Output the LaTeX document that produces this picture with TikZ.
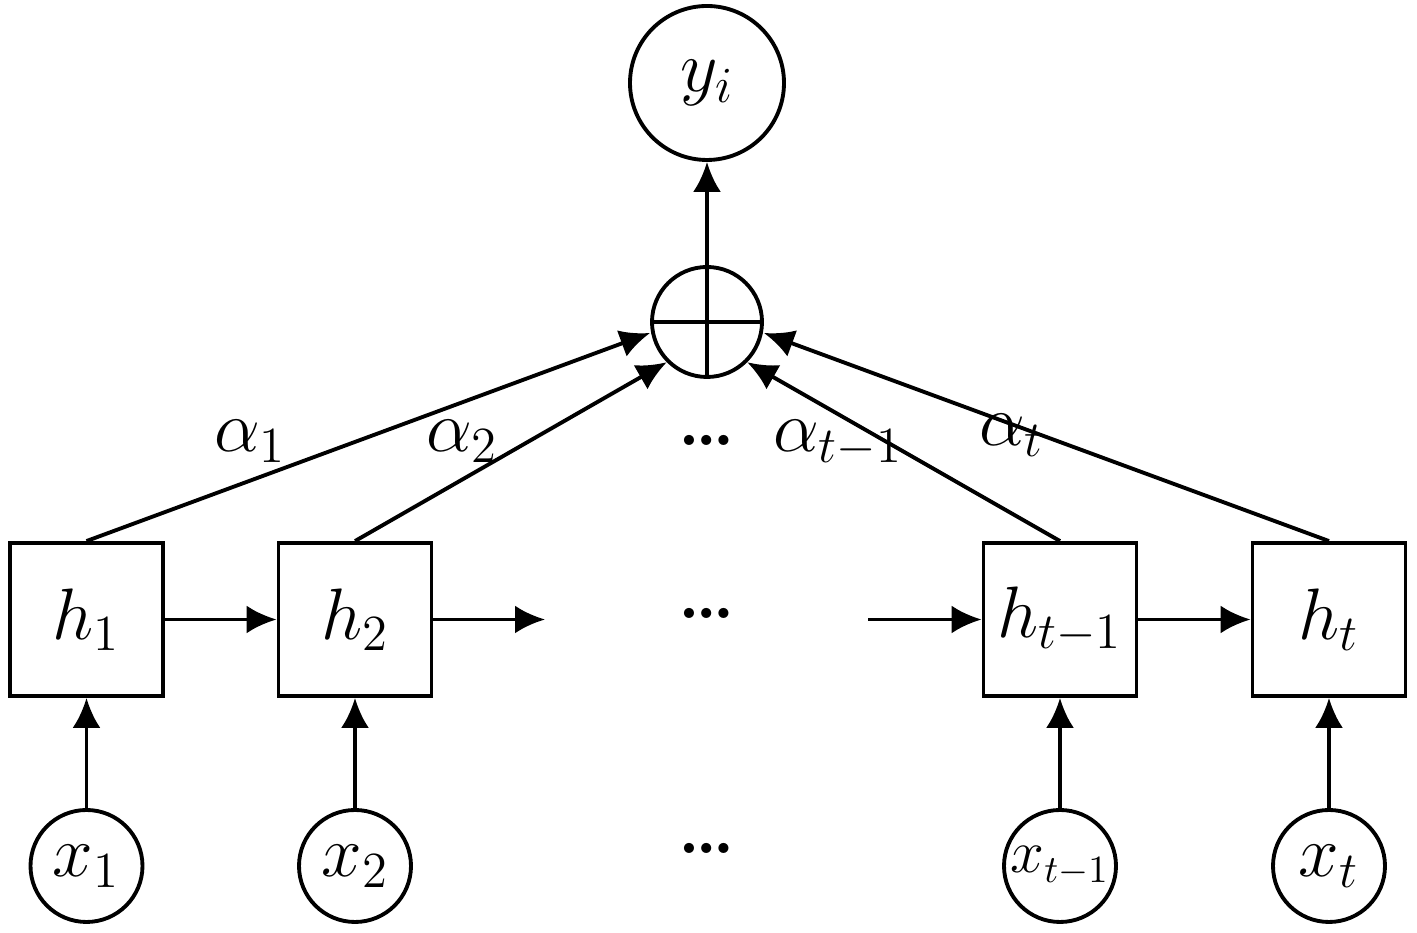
\documentclass[tikz,border=0pt]{standalone}
\usepackage{amsmath}
\usetikzlibrary{positioning,arrows.meta}

\begin{document}
\begin{tikzpicture}[cell/.style = {draw, minimum size=1.53cm, inner sep=0pt, font=\fontsize{20}{24}\selectfont},
        inp/.style = {draw, circle, minimum size=1.12cm, inner sep=0pt, font=\fontsize{20}{24}\selectfont},
        lbl/.style = {font=\fontsize{20}{24}\selectfont},
        arr/.style = {-{Latex[length=3mm,width=2.8mm]}},
        line width=1.1pt]
        \useasboundingbox (0,0) rectangle (14.17,9.33);
        \node[draw, circle, minimum size=1.54cm, inner sep=0pt, font=\fontsize{20}{24}\selectfont] (y) at (7.07,8.50) {$y_i$};
        \node[draw, circle, minimum size=1.1cm, inner sep=0pt] (sum) at (7.07,6.11) {};
        \node[cell] (h_1)   at (0.865,3.135)  {$h_1$};
        \node[cell] (h_2)   at (3.55,3.135)   {$h_2$};
        \node[cell] (h_t1)  at (10.60,3.135)  {$h_{t-1}$};
        \node[cell] (h_t)   at (13.29,3.135)  {$h_t$};
        \node[inp]  (x_1)   at (0.865,0.67)   {$x_1$};
        \node[inp]  (x_2)   at (3.55,0.67)    {$x_2$};
        \node[inp, font=\fontsize{16}{20}\selectfont]  (x_t1)  at (10.60,0.67)   {$x_{t-1}$};
        \node[inp]  (x_t)   at (13.29,0.67)   {$x_t$};
        \node[lbl] (d_1) at (7.07,4.93) {\textbf{\ldots}};
        \node[lbl] (d_2) at (7.07,3.20) {\textbf{\ldots}};
        \node[lbl] (d_3) at (7.07,0.85) {\textbf{\ldots}};
        \node[lbl] (a_1) at (2.50,4.92) {$\alpha_1$};
        \node[lbl] (a_2) at (4.62,4.92) {$\alpha_2$};
        \node[lbl] (a_t1) at (8.38,4.90) {$\alpha_{t-1}$};
        \node[lbl] (a_t) at (10.12,4.98) {$\alpha_t$};
        \coordinate (c_1) at (5.45,3.135);
        \coordinate (c_2) at (8.68,3.135);
        % plus sign
        \draw (sum.west) -- (sum.east);
        \draw (sum.south) -- (sum.north);
        \draw[arr] (sum.north) -- (y);
        % recurrence
        \draw[arr] (h_1) -- (h_2);
        \draw[arr] (h_2) -- (c_1);
        \draw[arr] (c_2) -- (h_t1);
        \draw[arr] (h_t1) -- (h_t);
        \foreach \i in {1,2,t1,t} {
            \draw[arr] (x_\i) -- (h_\i);
        }
        % attention weights
        \draw[arr] (h_1.north) -- (sum.west |- 0,6.00);
        \draw[arr] (h_2.north) -- (sum.south west);
        \draw[arr] (h_t1.north) -- (sum.south east);
        \draw[arr] (h_t.north) -- (sum.east |- 0,6.00);
\end{tikzpicture}
\end{document}
